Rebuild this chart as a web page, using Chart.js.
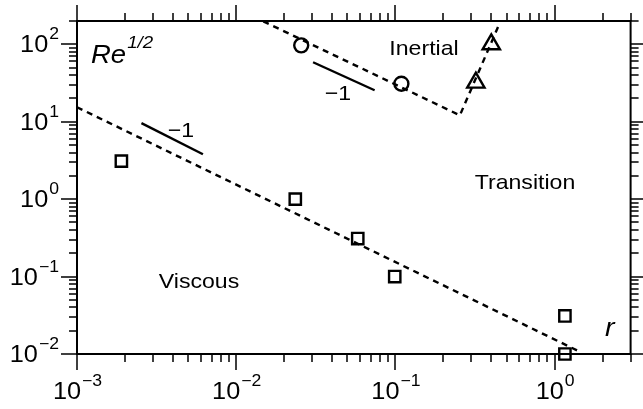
<!DOCTYPE html>
<html>
<head>
<meta charset="utf-8">
<script src="https://cdn.jsdelivr.net/npm/chart.js@4.4.1/dist/chart.umd.min.js"></script>
<style>
  html, body { margin: 0; padding: 0; background: #fff; }
  #wrap { width: 643px; height: 409px; }
</style>
</head>
<body>
<div id="wrap"><canvas id="chart" width="643" height="409"></canvas></div>
<script>
// measured points (r, Re^1/2)
var squareR = [0.0019, 0.0235, 0.058, 0.099, 1.16, 1.16];
var squareRe = [3.1, 1.0, 0.31, 0.1, 0.031, 0.01];
var circleR = [0.0256, 0.109];
var circleRe = [97, 31];
var triangleR = [0.32, 0.40];
var triangleRe = [32, 100];

// dashed guide lines
var viscousR = [0.001, 1.4];
var viscousRe = [15.4, 0.011];
var inertialR = [0.0148, 0.254, 0.451];
var inertialRe = [198, 12.1, 186];

// short slope markers (-1)
var slopeAR = [0.00254, 0.00618];
var slopeARe = [9.6, 3.8];
var slopeBR = [0.0304, 0.074];
var slopeBRe = [58.6, 25.5];

// axis decades
var xTickExps = [-3, -2, -1, 0];
var yTickExps = [-2, -1, 0, 1, 2];

function toPoints(xs, ys) {
	var pts = [];
	for (var i = 0; i < xs.length; i++) {
		pts.push({x: xs[i], y: ys[i]});
	}
	return pts;
}

function markerSet(xs, ys, style, radius) {
	return {
		data: toPoints(xs, ys),
		pointStyle: style,
		pointRadius: radius,
		pointBorderWidth: 2.4,
		pointBorderColor: '#000',
		pointBackgroundColor: 'rgba(0,0,0,0)',
		showLine: false,
		clip: false
	};
}

function lineSet(xs, ys, dash) {
	return {
		data: toPoints(xs, ys),
		showLine: true,
		pointRadius: 0,
		borderColor: '#000',
		borderWidth: 2.4,
		borderDash: dash,
		fill: false
	};
}

var FONT = '"Liberation Sans", Arial, Helvetica, sans-serif';
var STRETCH = 1.1;

function stretchedText(ctx, str, x, y, font, align) {
	ctx.save();
	ctx.font = font;
	var w = ctx.measureText(str).width * STRETCH;
	var left = x;
	if (align === 'center') left = x - w / 2;
	if (align === 'right') left = x - w;
	ctx.translate(left, y);
	ctx.scale(STRETCH, 1);
	ctx.textAlign = 'left';
	ctx.textBaseline = 'alphabetic';
	ctx.fillText(str, 0, 0);
	ctx.restore();
	return w;
}

function powWidth(ctx, exp) {
	ctx.font = '23px ' + FONT;
	var a = ctx.measureText('10').width * STRETCH;
	ctx.font = '16px ' + FONT;
	var b = ctx.measureText(String(exp).replace('-', '\u2212')).width * STRETCH;
	return a + b;
}

function drawPow(ctx, exp, x, y, align) {
	var w = powWidth(ctx, exp);
	var left = x;
	if (align === 'center') left = x - w / 2;
	if (align === 'right') left = x - w;
	var a = stretchedText(ctx, '10', left, y, '23px ' + FONT, 'left');
	stretchedText(ctx, String(exp).replace('-', '\u2212'), left + a + 1, y - 13, '16px ' + FONT, 'left');
}

var framePlugin = {
	id: 'frame',
	afterDraw: function(chart) {
		var ctx = chart.ctx;
		var area = chart.chartArea;
		var xs = chart.scales.x;
		var ys = chart.scales.y;
		ctx.save();
		ctx.strokeStyle = '#000';
		ctx.fillStyle = '#000';
		ctx.lineWidth = 2;
		ctx.strokeRect(area.left, area.top, area.right - area.left, area.bottom - area.top);

		ctx.lineWidth = 1.5;
		// x ticks, bottom and top, outward
		for (var e = -4; e <= 1; e++) {
			for (var m = 1; m <= 9; m++) {
				var v = m * Math.pow(10, e);
				if (v < xs.min * 0.999 || v > xs.max * 1.001) continue;
				var px = Math.round(xs.getPixelForValue(v));
				var len = m === 1 ? 16 : 8;
				ctx.beginPath();
				ctx.moveTo(px, area.bottom);
				ctx.lineTo(px, area.bottom + len);
				ctx.moveTo(px, area.top);
				ctx.lineTo(px, area.top - len);
				ctx.stroke();
			}
		}
		// y ticks, left and right, outward
		for (var e2 = -3; e2 <= 3; e2++) {
			for (var m2 = 1; m2 <= 9; m2++) {
				var v2 = m2 * Math.pow(10, e2);
				if (v2 < ys.min * 0.999 || v2 > ys.max * 1.001) continue;
				var py = Math.round(ys.getPixelForValue(v2));
				var len2 = m2 === 1 ? 16 : 8;
				ctx.beginPath();
				ctx.moveTo(area.left, py);
				ctx.lineTo(area.left - len2, py);
				ctx.moveTo(area.right, py);
				ctx.lineTo(area.right + len2, py);
				ctx.stroke();
			}
		}

		// tick labels
		xTickExps.forEach(function(ex) {
			var px = xs.getPixelForValue(Math.pow(10, ex));
			drawPow(ctx, ex, px, 399, 'center');
		});
		yTickExps.forEach(function(ex) {
			var py = ys.getPixelForValue(Math.pow(10, ex));
			drawPow(ctx, ex, area.left - 19, py + 8, 'right');
		});

		// region labels
		stretchedText(ctx, 'Inertial', 424, 55, '21px ' + FONT, 'center');
		stretchedText(ctx, 'Transition', 525, 189, '21px ' + FONT, 'center');
		stretchedText(ctx, 'Viscous', 199, 288, '21px ' + FONT, 'center');
		stretchedText(ctx, '\u22121', 181, 137, '21px ' + FONT, 'center');
		stretchedText(ctx, '\u22121', 338, 100, '21px ' + FONT, 'center');

		// axis names
		var rw = stretchedText(ctx, 'Re', 91, 63, 'italic 25px ' + FONT, 'left');
		stretchedText(ctx, '1/2', 91 + rw + 1, 48, 'italic 17px ' + FONT, 'left');
		stretchedText(ctx, 'r', 605, 336, 'italic 26px ' + FONT, 'left');
		ctx.restore();
	}
};

var chart = new Chart(document.getElementById('chart'), {
	type: 'scatter',
	data: {
		datasets: [
			lineSet(viscousR, viscousRe, [6, 5]),
			lineSet(inertialR, inertialRe, [6, 5]),
			lineSet(slopeAR, slopeARe, []),
			lineSet(slopeBR, slopeBRe, []),
			markerSet(squareR, squareRe, 'rect', 8),
			markerSet(circleR, circleRe, 'circle', 7),
			markerSet(triangleR, triangleRe, 'triangle', 10)
		]
	},
	options: {
		responsive: false,
		animation: false,
		devicePixelRatio: 1,
		layout: { padding: { top: 21, right: 8, left: 0, bottom: 0 } },
		plugins: { legend: { display: false }, tooltip: { enabled: false } },
		scales: {
			x: {
				type: 'logarithmic',
				min: 0.001,
				max: 3,
				ticks: { display: false },
				grid: { display: false },
				border: { display: false },
				afterFit: function(s) { s.height = 55; }
			},
			y: {
				type: 'logarithmic',
				min: 0.01,
				max: 200,
				ticks: { display: false },
				grid: { display: false },
				border: { display: false },
				afterFit: function(s) { s.width = 77; }
			}
		}
	},
	plugins: [framePlugin]
});
</script>
</body>
</html>
